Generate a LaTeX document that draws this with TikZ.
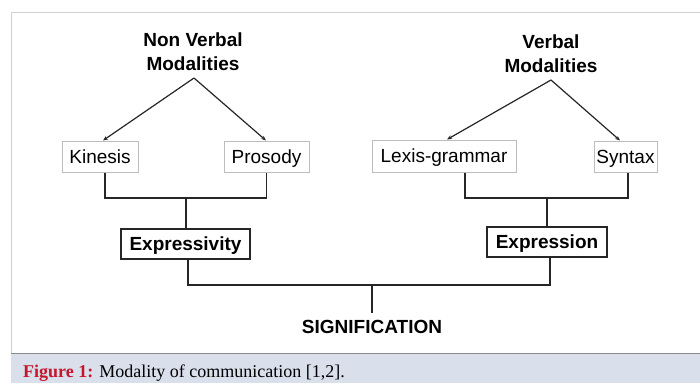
\documentclass[tikz,border=0pt]{standalone}
\usepackage{fontspec}
\setmainfont{Liberation Sans}
\newfontfamily\capfont{Liberation Serif}
\usetikzlibrary{arrows.meta}
\definecolor{capband}{HTML}{D9E0EC}
\definecolor{capred}{HTML}{C4172C}
\definecolor{frame}{HTML}{D0D0D0}
\definecolor{boxgray}{HTML}{BDBDBD}
\tikzset{
  x=1pt, y=-1pt,
  lightbox/.style={draw=boxgray, line width=1pt, fill=white, inner sep=0pt, text height=13.6pt, text depth=0pt, font=\fontsize{19}{22}\selectfont},
  darkbox/.style={draw=black!85, line width=1.2pt, fill=white, inner sep=0pt, text height=13.6pt, text depth=0pt, font=\bfseries\fontsize{19}{22}\selectfont},
  title/.style={align=center, font=\bfseries\fontsize{19}{24}\selectfont, inner sep=0pt},
  conn/.style={line width=1.2pt, draw=black!85},
  arr/.style={conn, -{Stealth[length=5pt,width=4pt]}},
}
\begin{document}
\begin{tikzpicture}
\useasboundingbox (0,0) rectangle (700,383);
\fill[white] (0,0) rectangle (700,383);
% frame
\draw[frame, line width=1pt] (11,383) -- (11,12) -- (700,12);
\fill[capband] (11,353) rectangle (700,383);
\draw[black!45, line width=1pt] (11,353) -- (700,353);
\node[anchor=base west, inner sep=0pt, font=\capfont\fontsize{18}{20}\selectfont] (cap) at (23,377)
  {\textcolor{capred}{\bfseries Figure 1:} Modality of communication [1,2].};

% titles
\node[title] (nv) at (193,52) {Non Verbal\\Modalities};
\node[title] (v) at (551,54) {Verbal\\Modalities};
\coordinate (nvp) at (194,78);
\coordinate (vp) at (551,80);

% top boxes
\node[lightbox, minimum width=76pt, minimum height=31pt] (kin) at (100,156.5) {Kinesis};
\node[lightbox, minimum width=85pt, minimum height=31pt] (pro) at (266.5,156.5) {Prosody};
\node[lightbox, minimum width=144pt, minimum height=32pt] (lex) at (444,156) {Lexis-grammar};
\node[lightbox, minimum width=63pt, minimum height=31pt] (syn) at (625.5,156.5) {Syntax};

% arrows
\draw[arr] (nvp) -- (kin.north -| 103,0);
\draw[arr] (nvp) -- (pro.north -| 266,0);
\draw[arr] (vp) -- (lex.north -| 447,0);
\draw[arr] (vp) -- (syn.north -| 620,0);

% mid boxes
\node[darkbox, minimum width=129pt, minimum height=30pt] (exv) at (185.5,244) {Expressivity};
\node[darkbox, minimum width=120pt, minimum height=30pt] (exn) at (547,242) {Expression};

% brackets
\coordinate (lj) at (186,198);
\coordinate (rj) at (547,198);
\draw[conn] (kin.south -| 105,0) |- (pro.south |- lj) -- (pro.south);
\draw[conn] (lj) -- (exv.north -| lj);
\draw[conn] (lex.south -| 465,0) |- (rj) -| (syn.south -| 628,0);
\draw[conn] (rj) -- (exn.north -| rj);

% bottom
\coordinate (bj) at (372,285);
\node[font=\bfseries\fontsize{19}{22}\selectfont, inner sep=0pt] (sig) at (372,327) {SIGNIFICATION};
\draw[conn] (exv.south -| 188,0) |- (bj) -| (exn.south -| 550,0);
\draw[conn] (bj) -- (372,313);
\end{tikzpicture}
\end{document}
